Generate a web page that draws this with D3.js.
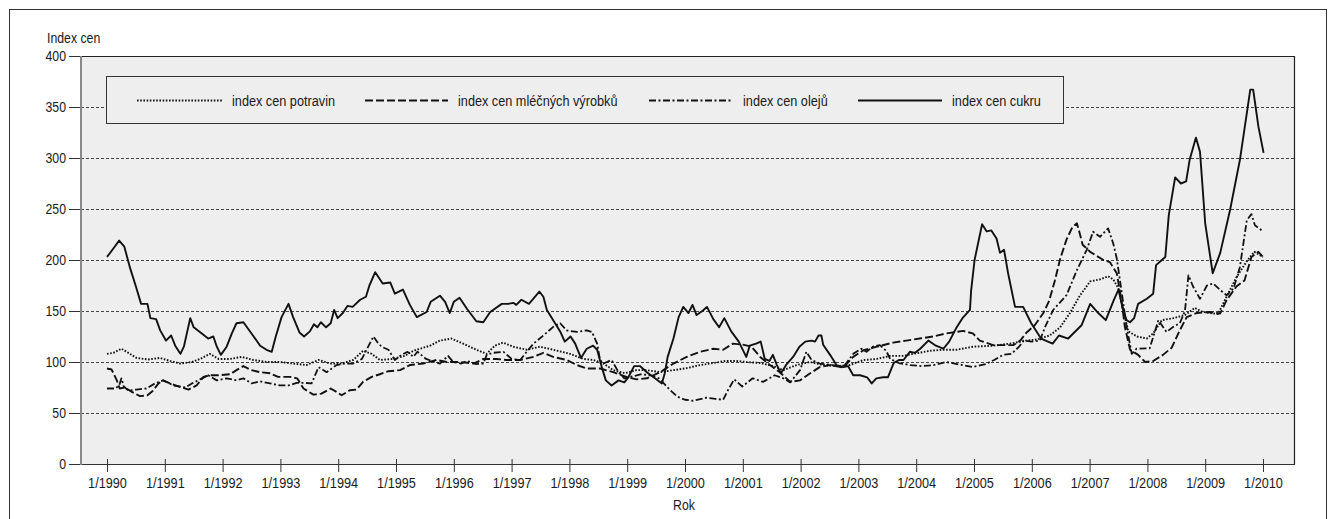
<!DOCTYPE html>
<html>
<head>
<meta charset="utf-8">
<script src="https://cdn.jsdelivr.net/npm/d3@7"></script>
<style>
  html, body { margin: 0; padding: 0; background: #ffffff; }
  svg { display: block; }
  text { font-family: "Liberation Sans", Arial, sans-serif; fill: #1a1a1a; }
</style>
</head>
<body>
<svg id="chart" width="1336" height="519"></svg>
<script>
// ---------- DATA ----------
const yearTicks = [1990,1991,1992,1993,1994,1995,1996,1997,1998,1999,2000,2001,2002,2003,2004,2005,2006,2007,2008,2009,2010];
const valueTicks = [0,50,100,150,200,250,300,350,400];
const seriesNames = ["index cen potravin", "index cen mléčných výrobků", "index cen olejů", "index cen cukru"];
const yTitle = "Index cen";
const xTitle = "Rok";

// [year (decimal), index]
const foodIndex = [[1990.0,108],[1990.11,109],[1990.25,113],[1990.34,110],[1990.51,104],[1990.71,102.5],[1990.92,104],[1991.09,101],[1991.27,98.5],[1991.47,100],[1991.61,103],[1991.78,108],[1991.93,103],[1992.13,103],[1992.33,105],[1992.53,102],[1992.76,100],[1992.99,100],[1993.22,98.5],[1993.45,97],[1993.66,102],[1993.86,98.5],[1994.06,98.5],[1994.26,102],[1994.43,111],[1994.58,108],[1994.72,102],[1994.95,103],[1995.15,106],[1995.30,111],[1995.59,116],[1995.76,121],[1995.96,123],[1996.16,118],[1996.39,112],[1996.57,108],[1996.71,116],[1996.85,119],[1997.03,115],[1997.26,112],[1997.49,115],[1997.72,112],[1998.01,108],[1998.24,103],[1998.41,102],[1998.59,98.5],[1998.76,92],[1998.96,89],[1999.16,92],[1999.34,92],[1999.57,90],[1999.80,92],[2000.03,94],[2000.26,97],[2000.49,99],[2000.70,101],[2000.90,101],[2001.06,100],[2001.30,99],[2001.53,96],[2001.70,92],[2001.93,97],[2002.16,100],[2002.39,97],[2002.62,96],[2002.85,97],[2003.09,102],[2003.32,103],[2003.55,106],[2003.78,106],[2003.95,108],[2004.24,111],[2004.47,112],[2004.70,112],[2004.98,115],[2005.33,116],[2005.62,118],[2005.91,121],[2006.08,122],[2006.31,126],[2006.49,134],[2006.66,148],[2006.83,165],[2007.01,179],[2007.18,181],[2007.32,184],[2007.41,181],[2007.50,172],[2007.58,151],[2007.67,130],[2007.82,125],[2007.99,123],[2008.10,128],[2008.25,141],[2008.45,143],[2008.65,146],[2008.82,153],[2008.96,149],[2009.22,147],[2009.37,164],[2009.54,183],[2009.71,198],[2009.85,208],[2010.0,203]];

const dairyIndex = [[1990.0,93.6],[1990.08,92.6],[1990.17,82],[1990.22,74],[1990.31,75],[1990.43,70.7],[1990.57,66.5],[1990.70,67.4],[1990.79,71.6],[1990.89,79],[1990.97,82],[1991.09,79],[1991.26,75.6],[1991.41,73],[1991.55,77],[1991.67,85.4],[1991.78,87],[1991.93,87],[1992.13,88],[1992.24,92],[1992.36,96],[1992.50,92],[1992.65,90],[1992.82,89],[1992.96,85.4],[1993.17,85.4],[1993.29,84],[1993.40,74],[1993.57,68],[1993.71,69],[1993.87,74],[1993.97,70.7],[1994.06,67.4],[1994.20,72.3],[1994.32,73],[1994.43,80.5],[1994.58,85.4],[1994.72,88],[1994.87,91],[1995.07,92],[1995.24,97],[1995.47,98.5],[1995.70,102],[1995.88,100],[1996.11,100],[1996.34,98.5],[1996.51,103],[1996.74,103],[1996.91,102],[1997.15,102],[1997.38,105],[1997.55,109],[1997.72,105],[1997.95,102],[1998.13,97],[1998.30,93.6],[1998.53,93.6],[1998.76,90],[1998.99,85.4],[1999.16,83],[1999.34,84],[1999.57,90],[1999.80,98.5],[2000.03,105],[2000.26,110],[2000.49,113],[2000.66,112],[2000.83,118],[2001.00,117],[2001.15,115],[2001.30,105],[2001.47,97],[2001.64,90],[2001.82,80.5],[2001.99,82],[2002.16,88.7],[2002.33,95],[2002.51,97],[2002.74,94.6],[2002.91,105],[2003.09,111.6],[2003.32,115],[2003.60,119],[2003.83,121],[2004.06,123],[2004.29,125],[2004.52,128],[2004.81,130.5],[2004.98,128],[2005.10,121],[2005.33,116.5],[2005.68,116.5],[2005.80,121],[2005.91,129],[2006.05,136],[2006.20,148],[2006.30,160],[2006.40,180],[2006.49,201],[2006.60,220],[2006.70,232],[2006.78,236],[2006.82,228],[2006.88,215],[2007.01,208],[2007.24,200],[2007.35,198],[2007.47,187],[2007.55,161],[2007.61,134.5],[2007.70,112],[2007.84,107],[2007.96,100],[2008.10,101],[2008.27,107],[2008.42,114],[2008.56,131],[2008.68,144],[2008.85,148],[2009.08,149],[2009.26,147.6],[2009.37,160.6],[2009.54,174],[2009.68,180],[2009.80,203],[2009.92,208],[2010.0,203]];

const oilIndex = [[1990.0,74],[1990.14,74],[1990.21,77],[1990.25,84],[1990.29,76],[1990.37,72],[1990.51,73],[1990.68,74],[1990.83,79],[1990.97,82],[1991.15,77],[1991.35,75],[1991.47,79],[1991.61,83],[1991.75,87],[1991.90,82],[1992.07,84],[1992.24,82],[1992.36,84],[1992.50,79],[1992.65,81],[1992.82,79],[1992.99,77],[1993.14,77],[1993.28,79.5],[1993.42,79.5],[1993.54,79],[1993.66,95],[1993.80,90],[1993.97,97],[1994.12,98.5],[1994.26,98.5],[1994.41,103],[1994.49,112],[1994.61,125],[1994.67,120],[1994.75,115],[1994.87,112],[1994.98,102],[1995.10,107],[1995.20,110],[1995.30,105],[1995.37,110],[1995.52,103],[1995.67,100],[1995.76,98.5],[1995.90,106],[1995.99,100],[1996.13,98.5],[1996.23,101],[1996.39,98],[1996.51,98.5],[1996.57,107],[1996.68,109],[1996.86,110],[1997.00,103],[1997.15,102],[1997.26,110],[1997.38,118],[1997.55,126],[1997.72,134.5],[1997.84,138],[1997.95,131],[1998.13,129.5],[1998.30,131],[1998.39,129.5],[1998.48,118],[1998.53,102],[1998.59,98.5],[1998.73,102],[1998.85,90],[1998.95,84],[1999.10,86],[1999.25,88],[1999.40,87],[1999.55,84],[1999.65,78],[1999.75,72],[1999.87,66],[2000.0,63],[2000.14,62],[2000.37,65],[2000.50,64],[2000.66,63],[2000.74,72],[2000.85,83],[2000.99,76],[2001.17,84],[2001.35,80.5],[2001.55,87],[2001.70,84],[2001.82,80],[2001.99,92],[2002.10,110],[2002.19,102],[2002.33,98.5],[2002.55,97],[2002.74,95],[2002.91,108],[2003.05,113],[2003.14,110],[2003.25,115],[2003.37,116.5],[2003.48,111],[2003.55,103],[2003.70,99],[2003.90,97],[2004.10,96],[2004.30,97],[2004.52,100],[2004.80,97],[2004.98,95],[2005.20,98],[2005.35,102],[2005.50,107],[2005.65,108],[2005.78,115],[2005.86,121],[2006.0,120],[2006.14,121],[2006.23,134.5],[2006.37,151],[2006.60,165.5],[2006.78,190],[2006.95,210],[2007.06,227.7],[2007.18,222.7],[2007.32,231],[2007.41,216],[2007.47,201.5],[2007.55,170.5],[2007.64,134.5],[2007.73,108],[2007.81,113],[2008.04,113.5],[2008.19,141],[2008.33,129.5],[2008.45,134.5],[2008.56,138],[2008.65,150],[2008.71,185],[2008.79,174],[2008.91,162],[2009.03,175],[2009.14,177],[2009.26,170.5],[2009.37,165.5],[2009.49,172],[2009.60,193],[2009.72,239],[2009.80,245],[2009.86,234],[2010.0,228]];

const sugarIndex = [[1990.0,203],[1990.12,212],[1990.21,219],[1990.30,213],[1990.40,192],[1990.50,174],[1990.59,157],[1990.70,157],[1990.75,143],[1990.85,142],[1990.92,131],[1991.02,121],[1991.11,126],[1991.18,116],[1991.27,108],[1991.33,115],[1991.44,143],[1991.50,134],[1991.64,128],[1991.75,123],[1991.84,125],[1991.90,115],[1991.97,107],[1992.07,115],[1992.16,128],[1992.24,138],[1992.36,139],[1992.50,128],[1992.65,116],[1992.76,112],[1992.85,110],[1992.92,125],[1993.02,144],[1993.14,157],[1993.22,144],[1993.33,129],[1993.41,125],[1993.51,130],[1993.58,137],[1993.64,134],[1993.70,139],[1993.79,134],[1993.87,138],[1993.93,151],[1993.99,143],[1994.08,148],[1994.16,155],[1994.25,154],[1994.38,161],[1994.48,164],[1994.54,175],[1994.64,188],[1994.77,177],[1994.90,178],[1994.98,167],[1995.12,171],[1995.24,156],[1995.36,144],[1995.53,149],[1995.60,159],[1995.76,165],[1995.85,159],[1995.93,148],[1996.00,159],[1996.10,163],[1996.23,152],[1996.39,140],[1996.51,139],[1996.63,149],[1996.83,157],[1996.94,157],[1997.03,158],[1997.08,156],[1997.17,161],[1997.30,157],[1997.48,169],[1997.55,164],[1997.61,151],[1997.72,141],[1997.84,130],[1997.92,120],[1998.02,125],[1998.10,118],[1998.20,104],[1998.30,113],[1998.41,116],[1998.48,112],[1998.56,95],[1998.63,82],[1998.73,77],[1998.85,82],[1998.95,80],[1999.02,85],[1999.12,96],[1999.22,96],[1999.34,90],[1999.48,84],[1999.60,79],[1999.65,89],[1999.70,105],[1999.80,123],[1999.89,144],[1999.97,154],[2000.06,148],[2000.13,156],[2000.20,146],[2000.30,150],[2000.38,154],[2000.49,142],[2000.59,134],[2000.68,143],[2000.80,130],[2000.93,120],[2001.06,105],[2001.12,116],[2001.23,118],[2001.31,120],[2001.38,103],[2001.46,101],[2001.52,107],[2001.59,97],[2001.66,89],[2001.76,98],[2001.87,105],[2001.98,115],[2002.08,120],[2002.19,121],[2002.25,120],[2002.31,126],[2002.36,126],[2002.39,117],[2002.51,107],[2002.62,97],[2002.74,95],[2002.82,96],[2002.91,87],[2003.03,87],[2003.15,85],[2003.23,79],[2003.31,84],[2003.43,85],[2003.51,85],[2003.61,99],[2003.70,102],[2003.78,102],[2003.89,110],[2003.98,109],[2004.07,113],[2004.21,121],[2004.34,116],[2004.47,113],[2004.57,120],[2004.69,133],[2004.80,143],[2004.93,151],[2004.95,170],[2005.01,200],[2005.14,235],[2005.22,228],[2005.30,229],[2005.39,221],[2005.45,207],[2005.52,210],[2005.59,187],[2005.71,154],[2005.85,154],[2005.99,138],[2006.16,123],[2006.36,118],[2006.47,126],[2006.63,123],[2006.86,136],[2007.01,157],[2007.15,148],[2007.28,141],[2007.42,161],[2007.50,171],[2007.58,151],[2007.64,141],[2007.70,139],[2007.77,143],[2007.84,157],[2007.99,162],[2008.10,167],[2008.15,195],[2008.25,200],[2008.31,203],[2008.37,244],[2008.48,281],[2008.58,275],[2008.67,277],[2008.73,298],[2008.84,320],[2008.91,306],[2009.00,236],[2009.13,187],[2009.26,207],[2009.43,249],[2009.60,298],[2009.78,367],[2009.83,367],[2009.92,331],[2010.01,305]];

// ---------- LAYOUT ----------
const W = 1336, H = 519;
const plot = { left: 81, right: 1295, top: 56, bottom: 464 };
const bg = "#edeeed";
const SX = 0.82; // horizontal condensing of text (condensed typeface look)

const svg = d3.select("#chart");

const x = d3.scaleLinear().domain([1990, 2010]).range([107, 1263]);
const y = d3.scaleLinear().domain([0, 400]).range([plot.bottom, plot.top]);

function addText(parent, px, py, str, size, anchor) {
  return parent.append("text")
    .attr("transform", `translate(${px},${py}) scale(${SX},1)`)
    .attr("text-anchor", anchor || "start")
    .style("font-size", size + "px")
    .text(str);
}

// outer frame
svg.append("rect").attr("x", 9.5).attr("y", 9.5).attr("width", 1317).attr("height", 520)
  .attr("fill", "#fff").attr("stroke", "#333").attr("stroke-width", 1);

// plot background
svg.append("rect").attr("x", plot.left).attr("y", plot.top)
  .attr("width", plot.right - plot.left).attr("height", plot.bottom - plot.top)
  .attr("fill", bg);

// gridlines
svg.append("g").selectAll("line")
  .data(valueTicks.filter(v => v > 0 && v < 400))
  .join("line")
  .attr("x1", plot.left).attr("x2", plot.right)
  .attr("y1", d => Math.round(y(d)) + 0.5).attr("y2", d => Math.round(y(d)) + 0.5)
  .attr("stroke", "#444").attr("stroke-width", 1).attr("stroke-dasharray", "3,2");

// y axis
const yAxis = d3.axisLeft(y).tickValues(valueTicks).tickSize(12).tickPadding(3);
const gy = svg.append("g").attr("transform", `translate(${plot.left},0)`).call(yAxis);
gy.select(".domain").remove();
gy.selectAll(".tick line").attr("stroke", "#333");
gy.selectAll(".tick text")
  .style("font-size", "15px").attr("fill", "#1a1a1a")
  .attr("x", -15 / SX).attr("transform", `scale(${SX},1)`);

// frame lines
svg.append("line").attr("x1", plot.left).attr("x2", plot.right).attr("y1", plot.top + 0.5).attr("y2", plot.top + 0.5)
  .attr("stroke", "#222").attr("stroke-width", 1.2);
svg.append("line").attr("x1", plot.right - 0.5).attr("x2", plot.right - 0.5).attr("y1", plot.top).attr("y2", plot.bottom)
  .attr("stroke", "#222").attr("stroke-width", 1.2);
svg.append("line").attr("x1", plot.left).attr("x2", plot.right).attr("y1", plot.bottom + 0.5).attr("y2", plot.bottom + 0.5)
  .attr("stroke", "#333").attr("stroke-width", 1.2);
svg.append("line").attr("x1", plot.left).attr("x2", plot.left).attr("y1", plot.top).attr("y2", plot.bottom + 1)
  .attr("stroke", "#888").attr("stroke-width", 2);

// x axis
const xAxis = d3.axisBottom(x).tickValues(yearTicks).tickFormat(d => "1/" + d).tickSize(8).tickPadding(5);
const gx = svg.append("g").attr("transform", `translate(0,${plot.bottom})`).call(xAxis);
gx.select(".domain").remove();
gx.selectAll(".tick line").attr("y1", -5).attr("y2", 8).attr("stroke", "#333");
gx.selectAll(".tick text")
  .style("font-size", "15.5px").attr("fill", "#1a1a1a")
  .attr("transform", `scale(${SX},1)`);

// titles
addText(svg, 47, 43, yTitle, 15, "start");
addText(svg, 684, 510, xTitle, 15, "middle");

// ---------- LINES ----------
const styles = [
  { data: foodIndex,  dash: "1.6,1.6",      width: 1.9 },
  { data: dairyIndex, dash: "8,3",          width: 1.9 },
  { data: oilIndex,   dash: "7,2.5,2,2.5",  width: 1.8 },
  { data: sugarIndex, dash: null,           width: 1.9 }
];
const line = d3.line().x(d => x(d[0])).y(d => y(d[1]));
const gLines = svg.append("g");
styles.forEach(s => {
  gLines.append("path").datum(s.data)
    .attr("d", line)
    .attr("fill", "none")
    .attr("stroke", "#111")
    .attr("stroke-width", s.width)
    .attr("stroke-linejoin", "round")
    .attr("stroke-dasharray", s.dash);
});

// ---------- LEGEND ----------
const lg = svg.append("g");
lg.append("rect").attr("x", 106.5).attr("y", 76.5).attr("width", 957).attr("height", 47)
  .attr("fill", bg).attr("stroke", "#333").attr("stroke-width", 1);
const legendPos = [
  { x1: 137, x2: 222, tx: 232 },
  { x1: 365, x2: 448, tx: 458 },
  { x1: 649, x2: 733, tx: 743 },
  { x1: 858, x2: 942, tx: 952 }
];
seriesNames.forEach((name, i) => {
  const p = legendPos[i], s = styles[i];
  lg.append("line").attr("x1", p.x1).attr("x2", p.x2).attr("y1", 100.5).attr("y2", 100.5)
    .attr("stroke", "#111").attr("stroke-width", s.width).attr("stroke-dasharray", s.dash);
  addText(lg, p.tx, 106, name, 15.5, "start");
});
</script>
</body>
</html>
